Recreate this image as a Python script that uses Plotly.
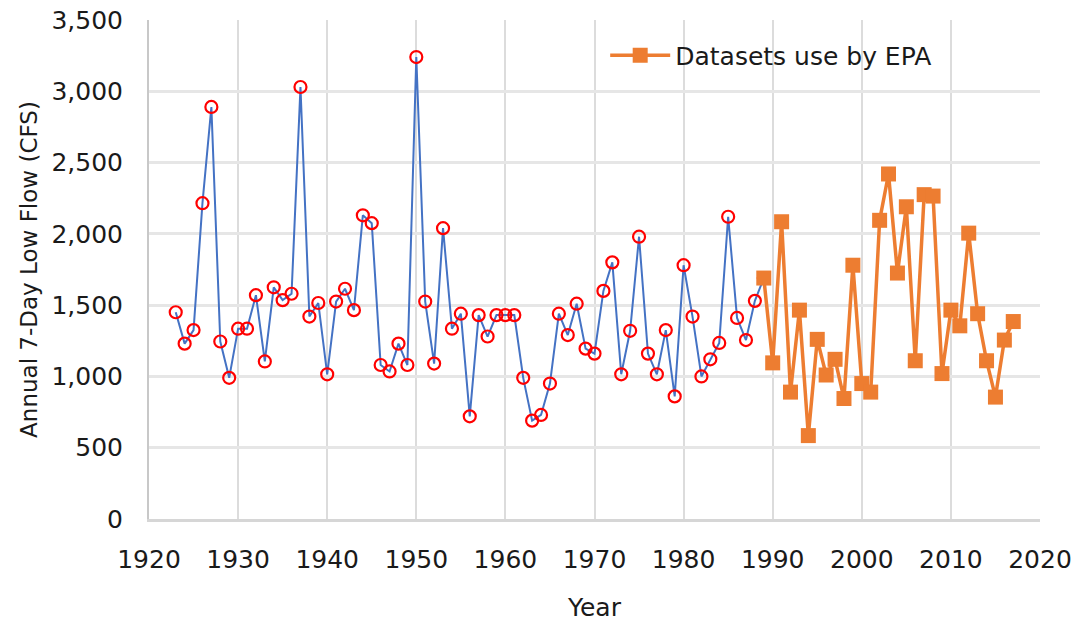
import plotly.graph_objects as go

# Historical record (blue line with red circles)
hist_years = list(range(1923, 1990))
hist_flow = [
    1450, 1230, 1325, 2215, 2890, 1245, 990, 1335, 1335, 1570,   # 1923-1932
    1105, 1625, 1535, 1580, 3030, 1420, 1515, 1015, 1525, 1615,  # 1933-1942
    1465, 2130, 2075, 1080, 1035, 1230, 1080, 3240, 1525, 1090,  # 1943-1952
    2040, 1335, 1440, 720, 1430, 1280, 1430, 1430, 1430, 990,    # 1953-1962
    690, 730, 950, 1440, 1290, 1510, 1195, 1160, 1600, 1800,     # 1963-1972
    1015, 1320, 1980, 1160, 1015, 1325, 860, 1780, 1420, 1000,   # 1973-1982
    1120, 1235, 2120, 1410, 1255, 1530, 1690,                    # 1983-1989
]

# Datasets used by EPA (orange squares)
epa_years = list(range(1989, 2018))
epa_flow = [
    1690, 1095, 2085, 890, 1465, 585, 1260, 1010, 1120, 845,     # 1989-1998
    1780, 950, 890, 2095, 2420, 1725, 2190, 1110, 2275, 2265,    # 1999-2008
    1020, 1465, 1355, 2005, 1440, 1110, 855, 1255, 1385,         # 2009-2017
]

x_ticks = list(range(1920, 2021, 10))
y_ticks = list(range(0, 3501, 500))

FONT = "DejaVu Sans"
TXT = "#1a1a1a"

fig = go.Figure()
fig.add_trace(go.Scatter(
    x=hist_years, y=hist_flow, mode="lines+markers",
    line=dict(color="#4472C4", width=2),
    marker=dict(symbol="circle-open", size=12, color="#FF0000",
                line=dict(width=2.2, color="#FF0000")),
    showlegend=False, name="Historical",
))
fig.add_trace(go.Scatter(
    x=epa_years, y=epa_flow, mode="lines+markers",
    line=dict(color="#ED7D31", width=3.5),
    marker=dict(symbol="square", size=15, color="#ED7D31"),
    name="Datasets use by EPA",
))

fig.update_layout(
    width=1080, height=624,
    margin=dict(l=149, r=40, t=20, b=105),
    paper_bgcolor="white", plot_bgcolor="white",
    font=dict(family=FONT, size=25, color=TXT),
    legend=dict(x=0.512, y=0.975, xanchor="left", yanchor="top",
                bgcolor="rgba(255,255,255,0)", font=dict(size=25, color=TXT),
                itemwidth=60, tracegroupgap=0),
    showlegend=True,
)
fig.update_xaxes(
    range=[1920, 2020], tickvals=x_ticks, ticktext=[str(v) for v in x_ticks],
    showgrid=True, gridcolor="#dcdcdc", gridwidth=2,
    showline=True, linecolor="#d6d6d6", linewidth=3,
    zeroline=False, ticks="", ticklabelstandoff=16, automargin=False,
    ticklabeloverflow="allow",
    title=dict(text="Year", standoff=26, font=dict(size=25, color=TXT)),
)
fig.update_yaxes(
    range=[0, 3500], tickvals=y_ticks, tickformat=",",
    showgrid=True, gridcolor="#e6e6e6", gridwidth=2.5,
    showline=True, linecolor="#c8c8c8", linewidth=2,
    zeroline=False, ticks="", ticklabelstandoff=19, automargin=False,
    ticklabeloverflow="allow",
    title=dict(text="Annual 7-Day Low Flow (CFS)", standoff=7,
               font=dict(size=23, color=TXT)),
)

fig.write_html("out.html",
               config={"displayModeBar": False},
               post_script="document.body.style.margin='0';")
